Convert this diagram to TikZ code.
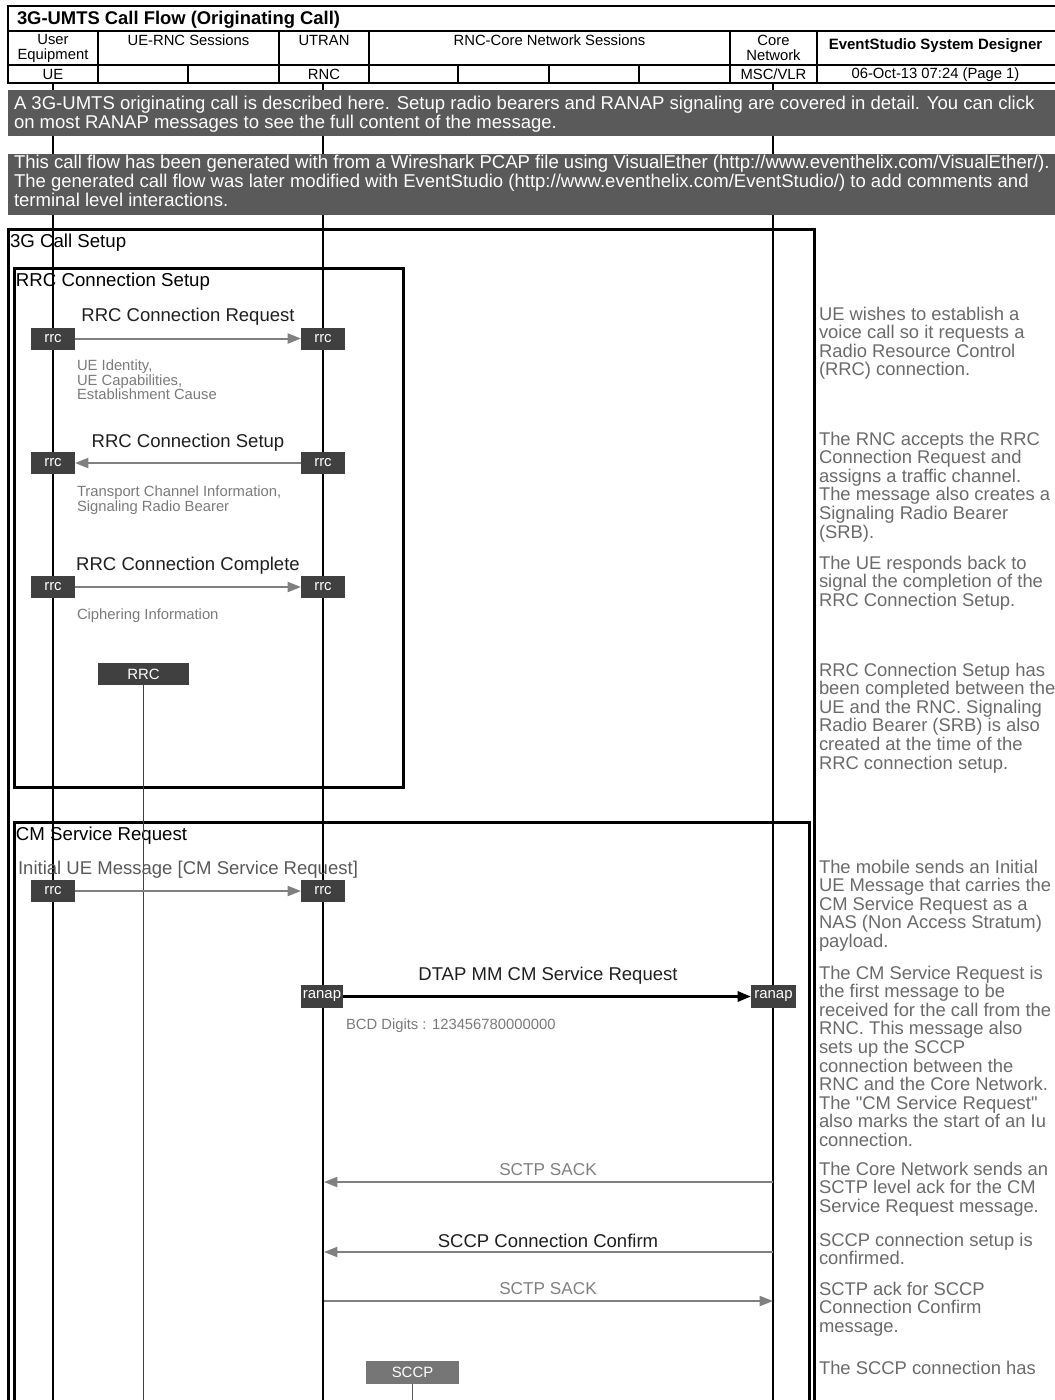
\documentclass[tikz,border=0pt]{standalone}
\usepackage{fontspec}
\setmainfont{Liberation Sans}
\usetikzlibrary{arrows.meta,positioning,calc}

\definecolor{bannergray}{HTML}{5A5A5A}
\definecolor{tagdark}{HTML}{404040}
\definecolor{taglight}{HTML}{767676}
\definecolor{flowgray}{HTML}{808080}
\definecolor{notegray}{HTML}{6A6A6A}
\definecolor{paramgray}{HTML}{7A7A7A}

\begin{document}
\begin{tikzpicture}[
  x=0.75pt, y=-0.75pt,
  every node/.style={inner sep=0pt, outer sep=0pt},
  hdr/.style={font=\fontsize{11.1}{11.25}\selectfont, align=center},
  hdrbold/.style={font=\bfseries\fontsize{11.25}{12}\selectfont},
  grid/.style={line width=0.9pt},
  frame/.style={draw, line width=2.25pt},
  frametitle/.style={anchor=base west, font=\fontsize{14}{14}\selectfont},
  banner/.style={anchor=north west, align=left, text=white,
                 font=\fontsize{13.9}{14.25}\selectfont},
  tag/.style={fill=tagdark, text=white, minimum width=33pt, minimum height=16.5pt,
              font=\fontsize{11.2}{11.2}\selectfont},
  msg/.style={anchor=base, font=\fontsize{13.9}{13.9}\selectfont, text=black!88},
  param/.style={anchor=north west, align=left, text=paramgray,
                font=\fontsize{11.1}{11.1}\selectfont},
  note/.style={anchor=north west, align=left, text=notegray,
               font=\fontsize{13.8}{13.9}\selectfont},
  flow/.style={-{Triangle[length=10pt,width=7.5pt]}, line width=1.5pt, draw=flowgray},
  action/.style={text=white, minimum height=16.5pt, font=\fontsize{11.2}{11.2}\selectfont},
]
  \useasboundingbox (0,0) rectangle (1054,1400);

  % Header table
  \draw[line width=1.8pt] (8,6) rectangle (1060,83);
  \draw[grid] (8,31) -- (1060,31);
  \draw[grid] (8,65) -- (1060,65);
  \draw[line width=1.8pt] (8,83) -- (1060,83);
  \foreach \x in {98,279,369,730,817} {
    \draw[grid] (\x,31) -- (\x,83);
  }
  \foreach \x in {188,458,549,639} {
    \draw[grid] (\x,65) -- (\x,83);
  }
  \node[anchor=base west, font=\bfseries\fontsize{13.8}{13.8}\selectfont] (title) at (17,24.6)
    {3G-UMTS Call Flow (Originating Call)};
  \node[hdr, anchor=north] (hue) at (53,34.7) {User\\Equipment};
  \node[hdr, anchor=base] (hses1) at (188.5,45.3) {UE-RNC Sessions};
  \node[hdr, anchor=base] (hutran) at (324,45.3) {UTRAN};
  \node[hdr, anchor=base] (hses2) at (549.5,45.3) {RNC-Core Network Sessions};
  \node[hdr, anchor=north] (hcore) at (773.5,34.7) {Core\\Network};
  \node[hdrbold, anchor=base] (hes) at (935.5,49.4) {EventStudio System Designer};
  \node[hdr, anchor=base] (hue2) at (53,79.3) {UE};
  \node[hdr, anchor=base] (hrnc) at (324,79.3) {RNC};
  \node[hdr, anchor=base] (hmsc) at (773.5,79.3) {MSC/VLR};
  \node[hdr, anchor=base] (hdate) at (935.5,78.4) {06-Oct-13 07:24 (Page 1)};

  % Grouping frames
  \draw[frame] (8,229) rectangle (814,1410);
  \draw[frame] (14,268) rectangle (403,787);
  \draw[frame] (14,822) rectangle (809,1410);
  \node[frametitle] (fcall) at (10,247) {3G Call Setup};
  \node[frametitle] (frrc) at (16,286) {RRC Connection Setup};
  \node[frametitle] (fcm) at (16,840) {CM Service Request};

  % Lifelines
  \foreach \n/\x/\w in {ue/53/1.9pt, rnc/323/1.9pt, msc/773/1pt} {
    \coordinate (\n top) at (\x,83);
    \coordinate (\n bot) at (\x,1400);
    \draw[line width=\w] (\n top) -- (\n bot);
  }

  % Remarks
  \fill[bannergray] (8,90) rectangle (1060,136);
  \node[banner] (rem1) at (14,96.2)
    {A 3G-UMTS originating call is described here. Setup radio bearers and RANAP signaling are covered in detail. You can click\\
     on most RANAP messages to see the full content of the message.};
  \fill[bannergray] (8,154) rectangle (1060,215);
  \node[banner] (rem2) at (14,155.5)
    {This call flow has been generated with from a Wireshark PCAP file using VisualEther (http://www.eventhelix.com/VisualEther/).\\
     The generated call flow was later modified with EventStudio (http://www.eventhelix.com/EventStudio/) to add comments and\\
     terminal level interactions.};

  % RRC Connection Request
  \node[msg] (lreq) at (188,321) {RRC Connection Request};
  \node[tag] (ureq) at (53,338.5) {rrc};
  \node[tag] (nreq) at (323,338.5) {rrc};
  \draw[flow] (ureq) -- (nreq);
  \node[param] (preq) at (77,359.5) {UE Identity,\\UE Capabilities,\\Establishment Cause};

  % RRC Connection Setup
  \node[msg] (lset) at (188,447) {RRC Connection Setup};
  \node[tag] (uset) at (53,463) {rrc};
  \node[tag] (nset) at (323,463) {rrc};
  \draw[flow] (nset) -- (uset);
  \node[param] (pset) at (77,485.5) {Transport Channel Information,\\Signaling Radio Bearer};

  % RRC Connection Complete
  \node[msg] (lcmp) at (188,570) {RRC Connection Complete};
  \node[tag] (ucmp) at (53,587) {rrc};
  \node[tag] (ncmp) at (323,587) {rrc};
  \draw[flow] (ucmp) -- (ncmp);
  \node[param] (pcmp) at (77,608.5) {Ciphering Information};

  % RRC action
  \node[action, fill=tagdark, minimum width=68.25pt] (arrc) at (143.5,674) {RRC};
  \coordinate (arrc bot) at (143.5,1400);
  \draw[line width=0.75pt, black!75] (arrc.south) -- (arrc bot);

  % Initial UE Message
  \node[msg, text=black!65] (linit) at (188,874) {Initial UE Message [CM Service Request]};
  \node[tag] (uinit) at (53,891) {rrc};
  \node[tag] (ninit) at (323,891) {rrc};
  \draw[flow] (uinit) -- (ninit);

  % DTAP MM CM Service Request
  \node[msg] (ldtap) at (548,980) {DTAP MM CM Service Request};
  \node[tag, minimum width=32pt, minimum height=17.25pt] (ndtap) at (322,996.5) {ranap};
  \node[tag, minimum width=33.75pt, minimum height=17.25pt] (mdtap) at (773.5,996.5) {ranap};
  \draw[flow, draw=black, line width=2.2pt] (ndtap) -- (mdtap);
  \node[param] (pdtap) at (346,1018.5) {BCD Digits : 123456780000000};

  % SCTP / SCCP exchange
  \coordinate (msack1) at (773,1182);
  \coordinate (nsack1) at (324,1182);
  \node[msg, text=flowgray, font=\fontsize{12.9}{12.9}\selectfont] (lsack1) at (548,1175) {SCTP SACK};
  \draw[flow] (msack1) -- (nsack1);
  \coordinate (mcc) at (773,1252);
  \coordinate (ncc) at (324,1252);
  \node[msg] (lcc) at (548,1247) {SCCP Connection Confirm};
  \draw[flow] (mcc) -- (ncc);
  \coordinate (nsack2) at (324,1301);
  \coordinate (msack2) at (773,1301);
  \node[msg, text=flowgray, font=\fontsize{12.9}{12.9}\selectfont] (lsack2) at (548,1294) {SCTP SACK};
  \draw[flow] (nsack2) -- (msack2);

  % SCCP action
  \node[action, fill=taglight, minimum width=69.75pt, minimum height=17.25pt] (asccp) at (412.5,1372.5) {SCCP};
  \coordinate (asccp bot) at (412.5,1400);
  \draw[line width=0.75pt, black!65] (asccp.south) -- (asccp bot);

  % Comments
  \node[note] (n1) at (819,307) {UE wishes to establish a\\voice call so it requests a\\Radio Resource Control\\(RRC) connection.};
  \node[note] (n2) at (819,432) {The RNC accepts the RRC\\Connection Request and\\assigns a traffic channel.\\The message also creates a\\Signaling Radio Bearer\\(SRB).};
  \node[note] (n3) at (819,556) {The UE responds back to\\signal the completion of the\\RRC Connection Setup.};
  \node[note] (n4) at (819,663) {RRC Connection Setup has\\been completed between the\\UE and the RNC. Signaling\\Radio Bearer (SRB) is also\\created at the time of the\\RRC connection setup.};
  \node[note] (n5) at (819,860) {The mobile sends an Initial\\UE Message that carries the\\CM Service Request as a\\NAS (Non Access Stratum)\\payload.};
  \node[note] (n6) at (819,966) {The CM Service Request is\\the first message to be\\received for the call from the\\RNC. This message also\\sets up the SCCP\\connection between the\\RNC and the Core Network.\\The \textquotedbl CM Service Request\textquotedbl\\also marks the start of an Iu\\connection.};
  \node[note] (n7) at (819,1162) {The Core Network sends an\\SCTP level ack for the CM\\Service Request message.};
  \node[note] (n8) at (819,1233) {SCCP connection setup is\\confirmed.};
  \node[note] (n9) at (819,1282) {SCTP ack for SCCP\\Connection Confirm\\message.};
  \node[note] (n10) at (819,1361) {The SCCP connection has};
\end{tikzpicture}
\end{document}
